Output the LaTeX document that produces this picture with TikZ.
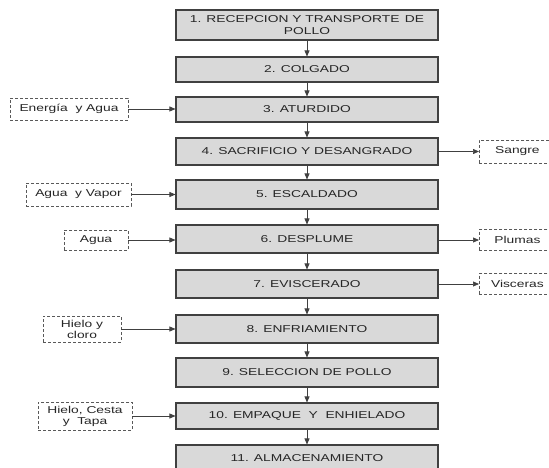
\documentclass[tikz,border=0pt]{standalone}
\usepackage{fontspec}
\setmainfont{Liberation Sans}
\newfontfamily\ancho[FakeStretch=1.38]{Liberation Sans}
\usetikzlibrary{positioning, arrows.meta}

\tikzset{
  etapa/.style={draw=black!75, line width=1.1pt, fill=gray!30, minimum width=262pt,
    minimum height=27pt, inner sep=1pt, align=center, text=black!85,
    font=\ancho\fontsize{10}{11.5}\selectfont},
  flujo/.style={draw=black!65, dash pattern=on 3pt off 2pt, line width=0.8pt, fill=white,
    inner sep=1pt, align=center, text=black!85, font=\ancho\fontsize{10}{11}\selectfont},
  flecha/.style={draw=black!75, line width=0.7pt, -{Triangle[length=6pt,width=5pt]}}
}

\begin{document}
\begin{tikzpicture}[x=1pt, y=-1pt]
        \useasboundingbox (0,0) rectangle (549,468);
        % Etapas del proceso
        \node[etapa, minimum height=30pt] (p1) at (307,25) {1. RECEPCION Y TRANSPORTE \,DE\\POLLO};
        \node[etapa, minimum height=25pt] (p2) at (307,69.5) {2. COLGADO};
        \node[etapa, minimum height=25pt] (p3) at (307,109.5) {3. ATURDIDO};
        \node[etapa] (p4) at (307,151.5) {4. SACRIFICIO Y DESANGRADO};
        \node[etapa, minimum height=29pt] (p5) at (307,194.5) {5. ESCALDADO};
        \node[etapa, minimum height=28pt] (p6) at (307,239) {6. DESPLUME};
        \node[etapa, minimum height=28pt] (p7) at (307,284) {7. EVISCERADO};
        \node[etapa, minimum height=28pt] (p8) at (307,329) {8. ENFRIAMIENTO};
        \node[etapa, minimum height=29pt] (p9) at (307,372.5) {9. SELECCION DE POLLO};
        \node[etapa, minimum height=26pt] (p10) at (307,416) {10. EMPAQUE \ Y \ ENHIELADO};
        \node[etapa] (p11) at (307,458.5) {11. ALMACENAMIENTO};
        % Flechas entre etapas
        \foreach \a/\b in {p1/p2, p2/p3, p3/p4, p4/p5, p5/p6, p6/p7, p7/p8, p8/p9, p9/p10, p10/p11}
          \draw[flecha] (\a) -- (\b);
        % Entradas
        \node[flujo, minimum width=118pt, minimum height=22pt] (e3) at (69,109) {Energía \ y Agua};
        \node[flujo, minimum width=105pt, minimum height=23pt] (e5) at (78.5,194.5) {Agua \ y Vapor};
        \node[flujo, minimum width=64pt, minimum height=20pt] (e6) at (96,240) {Agua};
        \node[flujo, minimum width=78pt, minimum height=26pt] (e8) at (82,329) {Hielo y\\cloro};
        \node[flujo, minimum width=94pt, minimum height=28pt] (e10) at (85,416) {Hielo, Cesta\\y \ Tapa};
        \foreach \e/\p in {e3/p3, e5/p5, e6/p6, e8/p8, e10/p10}
          \draw[flecha] (\e.east) -- (\e.east -| \p.west);
        % Salidas
        \node[flujo, minimum width=76pt, minimum height=23pt, anchor=west] (s4) at (479,151.5) {Sangre};
        \node[flujo, minimum width=76pt, minimum height=21pt, anchor=west] (s6) at (479,240) {Plumas};
        \node[flujo, minimum width=76pt, minimum height=21pt, anchor=west] (s7) at (479,284) {Visceras};
        \foreach \p/\s in {p4/s4, p6/s6, p7/s7}
          \draw[flecha] (\p.east |- \s.west) -- (\s.west);
    \end{tikzpicture}
\end{document}
